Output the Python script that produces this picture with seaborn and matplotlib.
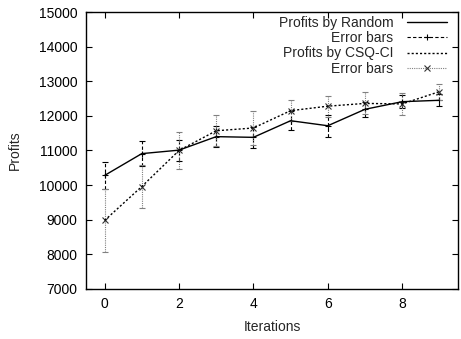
import matplotlib
matplotlib.use("Agg")
import matplotlib.pyplot as plt
import seaborn as sns
import pandas as pd
from matplotlib.lines import Line2D

iterations = [0, 1, 2, 3, 4, 5, 6, 7, 8, 9]
random_profit = [10280, 10910, 11010, 11400, 11380, 11860, 11715, 12190, 12410, 12450]
random_err = [400, 360, 300, 300, 300, 270, 320, 220, 180, 170]
csq_profit = [8980, 9960, 11000, 11570, 11650, 12150, 12280, 12360, 12345, 12700]
csq_err = [900, 620, 520, 450, 500, 300, 300, 320, 320, 230]

yticks = [7000, 8000, 9000, 10000, 11000, 12000, 13000, 14000, 15000]
xticks = [0, 2, 4, 6, 8]

sns.set_style("ticks")
plt.rcParams['font.family'] = ['Liberation Sans', 'DejaVu Sans']
plt.rcParams['font.size'] = 10

fig = plt.figure(figsize=(4.61, 3.39), dpi=100)
ax = fig.add_axes([86/461, 1-289/339, (458-86)/461, (289-12)/339])

df = pd.DataFrame({"it": iterations, "rnd": random_profit, "csq": csq_profit})

RND_DASH = (0, (3, 2))
CSQ_DOT = (0, (1, 1))
LINE_DOT = (0, (1.5, 1.5))

# error bars
eb1 = ax.errorbar(iterations, random_profit, yerr=random_err, fmt='none', ecolor='black',
                  elinewidth=0.8, capsize=2, capthick=0.8)
eb1[2][0].set_linestyle(RND_DASH)
ax.plot(iterations, random_profit, linestyle='none', marker='+', color='black', ms=5, mew=0.8)

eb2 = ax.errorbar(iterations, csq_profit, yerr=csq_err, fmt='none', ecolor='#808080',
                  elinewidth=0.8, capsize=2, capthick=0.8)
eb2[2][0].set_linestyle(CSQ_DOT)
ax.plot(iterations, csq_profit, linestyle='none', marker='x', color='#333333', ms=4, mew=0.8)

# main lines
sns.lineplot(data=df, x="it", y="rnd", ax=ax, color='black', linewidth=1.0)
sns.lineplot(data=df, x="it", y="csq", ax=ax, color='black', linewidth=1.0,
             linestyle=LINE_DOT)

ax.set_xlim(-0.5, 9.5)
ax.set_ylim(7000, 15000)
ax.set_xticks(xticks)
ax.set_yticks(yticks)
ax.set_xlabel("Iterations", fontsize=10, labelpad=6)
ax.set_ylabel("Profits", fontsize=10, labelpad=12)
ax.tick_params(direction='in', length=4, width=0.8, top=True, right=True,
               labelsize=10, colors='black', pad=6)
ax.tick_params(axis='y', pad=6)
for s in ax.spines.values():
    s.set_visible(True)
    s.set_linewidth(1.0)
    s.set_color('black')

handles = [
    Line2D([], [], color='black', lw=1.0),
    Line2D([0, 0.5, 1], [0, 0, 0], color='black', lw=0.8, linestyle=RND_DASH, marker='+',
           ms=5, mew=0.8, markevery=[1]),
    Line2D([], [], color='black', lw=1.0, linestyle=LINE_DOT),
    Line2D([0, 0.5, 1], [0, 0, 0], color='#808080', lw=0.8, linestyle=CSQ_DOT, marker='x',
           ms=4, mew=0.8, mec='#333333', markevery=[1]),
]
labels = ["Profits by Random", "Error bars", "Profits by CSQ-CI", "Error bars"]
leg = ax.legend(handles, labels, loc='upper right', frameon=False, markerfirst=False,
                fontsize=10, handlelength=2.9, handletextpad=0.95, labelspacing=0.08,
                borderaxespad=0.0, bbox_to_anchor=(0.985, 1.005))
leg._legend_box.align = "right"

fig.savefig("out.png", dpi=100)
